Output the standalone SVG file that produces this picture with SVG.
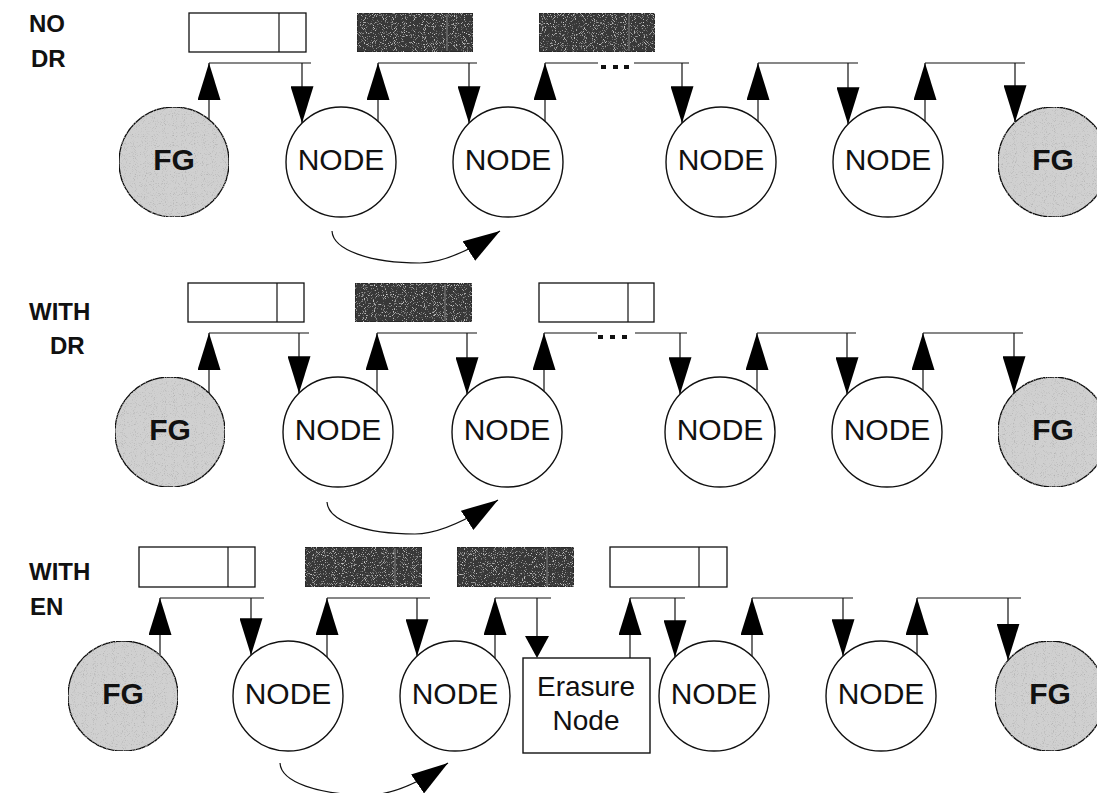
<svg xmlns="http://www.w3.org/2000/svg" width="1097" height="793" viewBox="0 0 1097 793">
  <defs>
    <style>
      .bus, .shaft, .curve { stroke: #111; stroke-width: 1.2; fill: none; }
      .shaft, .curve { marker-end: url(#tri); }
      .dot { fill: #111; }
      .head { fill: #000; }
      .ring { fill: #fff; stroke: #111; stroke-width: 1.4; }
      .fg { fill: #d0d0d0; stroke: #111; stroke-width: 1.4; filter: url(#grainLight); }
      .slot { fill: #fff; stroke: #111; stroke-width: 1.3; }
      .slot-dark { fill: #383838; stroke: #222; stroke-width: 1.3; filter: url(#grainDark); }
      .div { stroke: #111; stroke-width: 1.2; }
      .div-dark { stroke: #6a6a6a; stroke-width: 1.5; }
      .erase { fill: #fff; stroke: #111; stroke-width: 1.4; }
      .txt { font-family: "Liberation Sans", Arial, sans-serif; font-size: 30px; fill: #111; text-anchor: middle; }
      .txt-b { font-family: "Liberation Sans", Arial, sans-serif; font-size: 30px; font-weight: bold; fill: #111; text-anchor: middle; }
      .txt-e { font-family: "Liberation Sans", Arial, sans-serif; font-size: 28px; fill: #111; text-anchor: middle; }
      .side { font-family: "Liberation Sans", Arial, sans-serif; font-size: 24px; font-weight: bold; fill: #111; }
    </style>
    <marker id="tri" viewBox="0 0 37 23" refX="37" refY="11.5" markerWidth="37" markerHeight="23" markerUnits="userSpaceOnUse" orient="auto">
      <path d="M0,0 L37,11.5 L0,23 Z" fill="#000"/>
    </marker>
    <!-- stippled light grey for the frame-generator discs -->
    <filter id="grainLight" x="0" y="0" width="100%" height="100%">
      <feTurbulence type="fractalNoise" baseFrequency="1.1" numOctaves="1" seed="4" result="noise"/>
      <feColorMatrix in="noise" type="matrix" values="0 0 0 0 0.45  0 0 0 0 0.45  0 0 0 0 0.45  4 0 0 0 -2.2" result="spots"/>
      <feComposite in="spots" in2="SourceGraphic" operator="in" result="clipped"/>
      <feMerge><feMergeNode in="SourceGraphic"/><feMergeNode in="clipped"/></feMerge>
    </filter>
    <!-- speckled dark grey for filled slots -->
    <filter id="grainDark" x="0" y="0" width="100%" height="100%">
      <feTurbulence type="fractalNoise" baseFrequency="1.1" numOctaves="1" seed="9" result="noise"/>
      <feColorMatrix in="noise" type="matrix" values="0 0 0 0 0.8  0 0 0 0 0.8  0 0 0 0 0.8  4 0 0 0 -2.3" result="spots"/>
      <feComposite in="spots" in2="SourceGraphic" operator="in" result="clipped"/>
      <feMerge><feMergeNode in="SourceGraphic"/><feMergeNode in="clipped"/></feMerge>
    </filter>
  </defs>

  <rect width="1097" height="793" fill="#fff"/>

  <!-- row labels -->
  <g id="labels">
    <text class="side" x="29" y="32">NO</text>
    <text class="side" x="31" y="67">DR</text>
    <text class="side" x="29" y="320">WITH</text>
    <text class="side" x="50" y="354">DR</text>
    <text class="side" x="29" y="580">WITH</text>
    <text class="side" x="30" y="615">EN</text>
  </g>

  <!-- links: bus segments, arrows and hand-over curves -->
  <g id="connectors">
    <!-- row 1 -->
    <line class="bus" x1="209" y1="63" x2="311" y2="63"/>
    <line class="bus" x1="378" y1="63" x2="477" y2="63"/>
    <line class="bus" x1="545" y1="63" x2="598" y2="63"/>
    <line class="bus" x1="634" y1="63" x2="689" y2="63"/>
    <line class="bus" x1="758" y1="63" x2="858" y2="63"/>
    <line class="bus" x1="925" y1="63" x2="1025" y2="63"/>
    <rect class="dot" x="601" y="65" width="5" height="4"/>
    <rect class="dot" x="613" y="65" width="5" height="4"/>
    <rect class="dot" x="624" y="65" width="5" height="4"/>
    <line class="shaft" x1="209" y1="119.6" x2="209" y2="63"/>
    <line class="shaft" x1="302" y1="63" x2="302" y2="123.2"/>
    <line class="shaft" x1="378" y1="121.3" x2="378" y2="63"/>
    <line class="shaft" x1="469" y1="63" x2="469" y2="123.2"/>
    <line class="shaft" x1="545" y1="121.3" x2="545" y2="63"/>
    <line class="shaft" x1="682" y1="63" x2="682" y2="123.2"/>
    <line class="shaft" x1="758" y1="121.3" x2="758" y2="63"/>
    <line class="shaft" x1="848" y1="63" x2="848" y2="124.3"/>
    <line class="shaft" x1="925" y1="121.3" x2="925" y2="63"/>
    <line class="shaft" x1="1015" y1="63" x2="1015" y2="122.2"/>
    <path class="curve" d="M332,231 C333,250 370,263 420,263 C440,263 466,253 500,231"/>

    <!-- row 2 -->
    <line class="bus" x1="209" y1="333" x2="309" y2="333"/>
    <line class="bus" x1="377" y1="333" x2="477" y2="333"/>
    <line class="bus" x1="544" y1="333" x2="597" y2="333"/>
    <line class="bus" x1="635" y1="333" x2="687" y2="333"/>
    <line class="bus" x1="757" y1="333" x2="856" y2="333"/>
    <line class="bus" x1="923" y1="333" x2="1023" y2="333"/>
    <rect class="dot" x="598" y="335" width="5" height="4"/>
    <rect class="dot" x="610" y="335" width="5" height="4"/>
    <rect class="dot" x="622" y="335" width="5" height="4"/>
    <line class="shaft" x1="209" y1="393.2" x2="209" y2="333"/>
    <line class="shaft" x1="299" y1="333" x2="299" y2="393.2"/>
    <line class="shaft" x1="377" y1="393.2" x2="377" y2="333"/>
    <line class="shaft" x1="467" y1="333" x2="467" y2="394.3"/>
    <line class="shaft" x1="544" y1="391.3" x2="544" y2="333"/>
    <line class="shaft" x1="680" y1="333" x2="680" y2="394.3"/>
    <line class="shaft" x1="757" y1="391.3" x2="757" y2="333"/>
    <line class="shaft" x1="847" y1="333" x2="847" y2="394.3"/>
    <line class="shaft" x1="923" y1="390.4" x2="923" y2="333"/>
    <line class="shaft" x1="1014" y1="333" x2="1014" y2="393.2"/>
    <path class="curve" d="M327,502 C328,521 365,534 415,534 C435,534 463,523 498,500"/>

    <!-- row 3 -->
    <line class="bus" x1="160" y1="598" x2="264" y2="598"/>
    <line class="bus" x1="327" y1="598" x2="430" y2="598"/>
    <line class="bus" x1="495" y1="598" x2="551" y2="598"/>
    <line class="bus" x1="630" y1="598" x2="685" y2="598"/>
    <line class="bus" x1="752" y1="598" x2="853" y2="598"/>
    <line class="bus" x1="917" y1="598" x2="1021" y2="598"/>
    <line class="shaft" x1="160" y1="655.3" x2="160" y2="598"/>
    <line class="shaft" x1="251" y1="598" x2="251" y2="655.3"/>
    <line class="shaft" x1="327" y1="657.2" x2="327" y2="598"/>
    <line class="shaft" x1="417" y1="598" x2="417" y2="656.2"/>
    <line class="shaft" x1="495" y1="658.3" x2="495" y2="598"/>
    <line class="bus" x1="537" y1="598" x2="537" y2="636"/>
    <polygon class="head" points="525,636 549,636 537,658"/>
    <line class="shaft" x1="630" y1="658" x2="630" y2="598"/>
    <line class="shaft" x1="675" y1="598" x2="675" y2="657.2"/>
    <line class="shaft" x1="752" y1="657.2" x2="752" y2="598"/>
    <line class="shaft" x1="843" y1="598" x2="843" y2="656.2"/>
    <line class="shaft" x1="917" y1="654.4" x2="917" y2="598"/>
    <line class="shaft" x1="1008" y1="598" x2="1008" y2="660.5"/>
    <path class="curve" d="M280,763 C281,782 318,795 368,795 C388,795 416,785 448,763"/>
  </g>

  <!-- row 1: no DR -->
  <g id="r1-slot1"><rect class="slot" x="189" y="13" width="117" height="39"/><line class="div" x1="279" y1="13" x2="279" y2="52"/></g>
  <g id="r1-slot2"><rect class="slot-dark" x="357" y="13" width="116" height="39"/><line class="div-dark" x1="447" y1="14" x2="447" y2="51"/></g>
  <g id="r1-slot3"><rect class="slot-dark" x="539" y="13" width="116" height="39"/><line class="div-dark" x1="629" y1="14" x2="629" y2="51"/></g>
  <g id="r1-fg1"><circle class="fg" cx="174" cy="162" r="55"/><text class="txt-b" x="174" y="170">FG</text></g>
  <g id="r1-node1"><circle class="ring" cx="341" cy="162" r="55"/><text class="txt" x="341" y="170">NODE</text></g>
  <g id="r1-node2"><circle class="ring" cx="508" cy="162" r="55"/><text class="txt" x="508" y="170">NODE</text></g>
  <g id="r1-node3"><circle class="ring" cx="721" cy="162" r="55"/><text class="txt" x="721" y="170">NODE</text></g>
  <g id="r1-node4"><circle class="ring" cx="888" cy="162" r="55"/><text class="txt" x="888" y="170">NODE</text></g>
  <g id="r1-fg2"><circle class="fg" cx="1053" cy="162" r="55"/><text class="txt-b" x="1053" y="170">FG</text></g>

  <!-- row 2: with DR -->
  <g id="r2-slot1"><rect class="slot" x="188" y="283" width="116" height="39"/><line class="div" x1="277" y1="283" x2="277" y2="322"/></g>
  <g id="r2-slot2"><rect class="slot-dark" x="355" y="283" width="117" height="39"/><line class="div-dark" x1="445" y1="284" x2="445" y2="321"/></g>
  <g id="r2-slot3"><rect class="slot" x="539" y="283" width="115" height="39"/><line class="div" x1="628" y1="283" x2="628" y2="322"/></g>
  <g id="r2-fg1"><circle class="fg" cx="170" cy="432" r="55"/><text class="txt-b" x="170" y="440">FG</text></g>
  <g id="r2-node1"><circle class="ring" cx="338" cy="432" r="55"/><text class="txt" x="338" y="440">NODE</text></g>
  <g id="r2-node2"><circle class="ring" cx="507" cy="432" r="55"/><text class="txt" x="507" y="440">NODE</text></g>
  <g id="r2-node3"><circle class="ring" cx="720" cy="432" r="55"/><text class="txt" x="720" y="440">NODE</text></g>
  <g id="r2-node4"><circle class="ring" cx="887" cy="432" r="55"/><text class="txt" x="887" y="440">NODE</text></g>
  <g id="r2-fg2"><circle class="fg" cx="1053" cy="432" r="55"/><text class="txt-b" x="1053" y="440">FG</text></g>

  <!-- row 3: with erasure node -->
  <g id="r3-slot1"><rect class="slot" x="139" y="547" width="116" height="40"/><line class="div" x1="228" y1="547" x2="228" y2="587"/></g>
  <g id="r3-slot2"><rect class="slot-dark" x="305" y="547" width="117" height="40"/><line class="div-dark" x1="395" y1="548" x2="395" y2="586"/></g>
  <g id="r3-slot3"><rect class="slot-dark" x="457" y="547" width="117" height="40"/><line class="div-dark" x1="547" y1="548" x2="547" y2="586"/></g>
  <g id="r3-slot4"><rect class="slot" x="610" y="547" width="117" height="40"/><line class="div" x1="699" y1="547" x2="699" y2="587"/></g>
  <g id="r3-fg1"><circle class="fg" cx="123" cy="696" r="55"/><text class="txt-b" x="123" y="704">FG</text></g>
  <g id="r3-node1"><circle class="ring" cx="288" cy="696" r="55"/><text class="txt" x="288" y="704">NODE</text></g>
  <g id="r3-node2"><circle class="ring" cx="455" cy="696" r="55"/><text class="txt" x="455" y="704">NODE</text></g>
  <g id="r3-erasure"><rect class="erase" x="523" y="658" width="127" height="95"/><text class="txt-e" x="586" y="696">Erasure</text><text class="txt-e" x="586" y="730">Node</text></g>
  <g id="r3-node3"><circle class="ring" cx="714" cy="696" r="55"/><text class="txt" x="714" y="704">NODE</text></g>
  <g id="r3-node4"><circle class="ring" cx="881" cy="696" r="55"/><text class="txt" x="881" y="704">NODE</text></g>
  <g id="r3-fg2"><circle class="fg" cx="1050" cy="696" r="55"/><text class="txt-b" x="1050" y="704">FG</text></g>
</svg>
